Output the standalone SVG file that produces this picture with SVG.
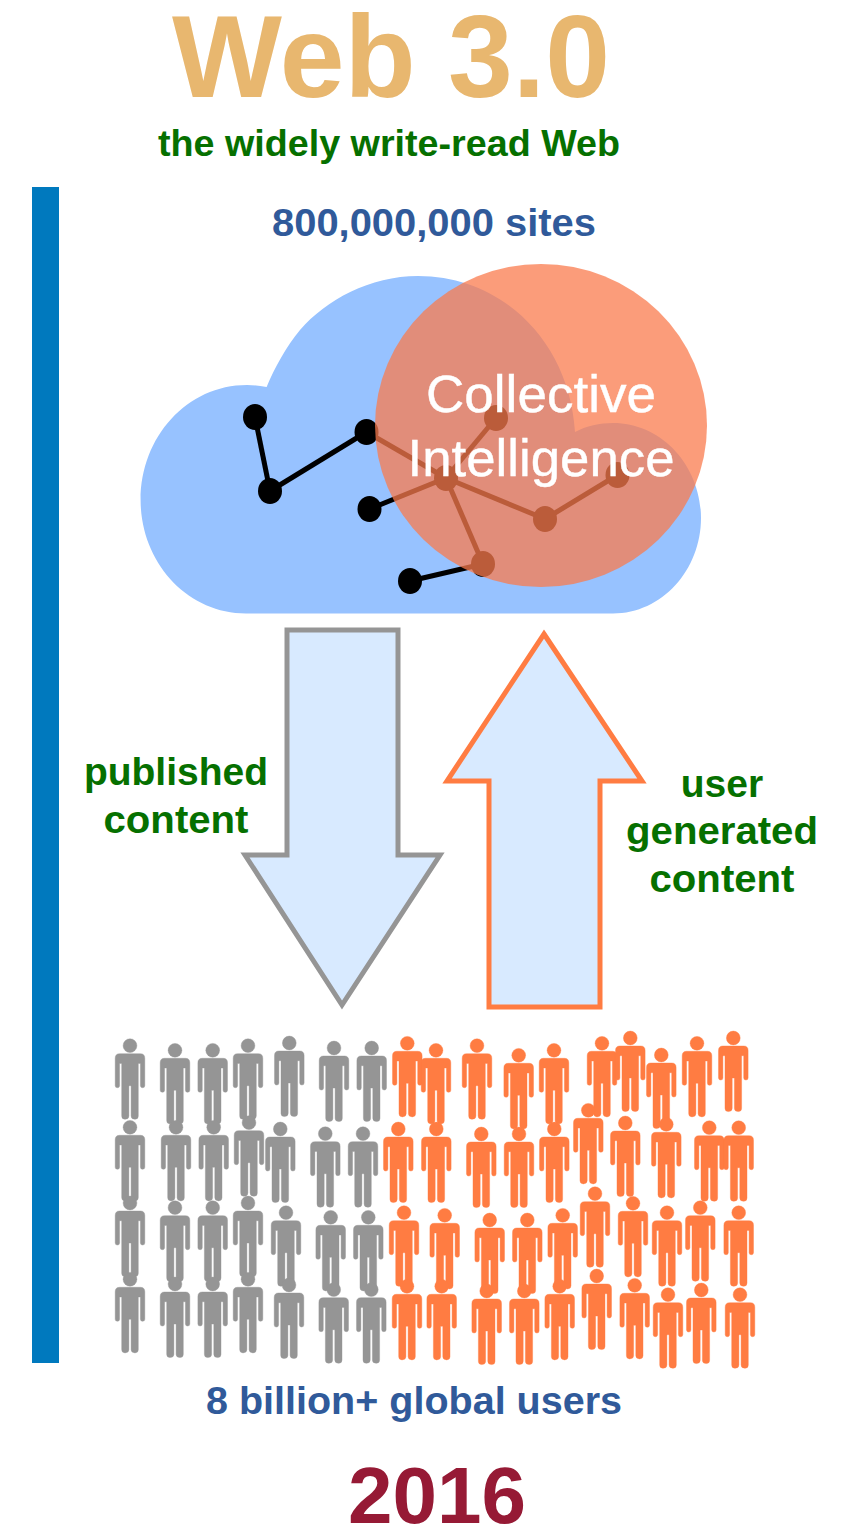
<svg xmlns="http://www.w3.org/2000/svg" width="842" height="1525" viewBox="0 0 842 1525">
<style>
text{font-family:"Liberation Sans",Arial,Helvetica,sans-serif;text-anchor:middle}
.b{font-weight:bold}
.g{fill:#067000;font-size:39px}
.n{fill:#305a9a;font-size:39px}
.w{fill:#fff;stroke:#fff;stroke-width:.4;font-size:52px}
.e{stroke:#000;stroke-width:5;fill:none}
.gr{fill:#959595;stroke:#959595;stroke-width:.4}
.or{fill:#ff7c42;stroke:#ff7c42;stroke-width:.4}
</style>
<defs>
<g id="p"><circle cx="0" cy="0" r="6.9"/><path d="M-10.5,8H10.5Q14.8,8 14.8,12.5V40Q14.8,42 12.6,42Q10.4,42 10.4,40V17.7H8.6L8.3,17.7V70.3Q8.3,73.6 5,73.6Q1.1,73.6 1.1,70.3V40H-1.1V70.3Q-1.1,73.6 -5,73.6Q-8.3,73.6 -8.3,70.3V17.7H-10.4V40Q-10.4,42 -12.6,42Q-14.8,42 -14.8,40V12.5Q-14.8,8 -10.5,8Z"/></g>
</defs>
<rect id="bar" x="32" y="187" width="27" height="1176" fill="#0079be"/>
<text class="b" x="391" y="97" font-size="116" fill="#e8b76f" textLength="438" lengthAdjust="spacingAndGlyphs">Web 3.0</text>
<text class="b g" x="389" y="155.5" style="font-size:37px" textLength="462" lengthAdjust="spacingAndGlyphs">the widely write-read Web</text>
<text class="b n" x="434" y="235.5" textLength="324" lengthAdjust="spacingAndGlyphs">800,000,000 sites</text>
<path id="cloud" fill="#97c2ff" d="M246,613.5C187,613.5 140.6,562 140.6,500C140.6,437 187,385 247,385C254,385 260,386 266.6,387C275,367 286,347 300,330C326,300 370,276 418,276C505,276 570,345 575,432C586,426 600,423 613,423C662,423 701,466 701,518C701,570 662,613.5 613,613.5Z"/>
<g id="connectors">
<line class="e" x1="255" y1="417" x2="270" y2="491"/>
<line class="e" x1="270" y1="491" x2="366.5" y2="432"/>
<line class="e" x1="366.5" y1="432" x2="446" y2="478"/>
<line class="e" x1="369.5" y1="509" x2="446" y2="478"/>
<line class="e" x1="446" y1="478" x2="496" y2="418"/>
<line class="e" x1="446" y1="478" x2="545" y2="519"/>
<line class="e" x1="545" y1="519" x2="617.5" y2="475"/>
<line class="e" x1="446" y1="478" x2="483" y2="564"/>
<line class="e" x1="483" y1="564" x2="410" y2="581"/>
</g>
<g id="net-1"><ellipse cx="255" cy="417" rx="12" ry="13"/></g>
<g id="net-2"><ellipse cx="270" cy="491" rx="12" ry="13"/></g>
<g id="net-3"><ellipse cx="366.5" cy="432" rx="12" ry="13"/></g>
<g id="net-4"><ellipse cx="369.5" cy="509" rx="12" ry="13"/></g>
<g id="net-5"><ellipse cx="446" cy="478" rx="12" ry="13"/></g>
<g id="net-6"><ellipse cx="496" cy="418" rx="12" ry="13"/></g>
<g id="net-7"><ellipse cx="545" cy="519" rx="12" ry="13"/></g>
<g id="net-8"><ellipse cx="617.5" cy="475" rx="12" ry="13"/></g>
<g id="net-9"><ellipse cx="483" cy="564" rx="12" ry="13"/></g>
<g id="net-10"><ellipse cx="410" cy="581" rx="12" ry="13"/></g>
<g id="collective">
<ellipse cx="541" cy="425.5" rx="166" ry="161.5" fill="#fa7b4d" fill-opacity=".75"/>
<text class="w" x="541" y="412" textLength="230" lengthAdjust="spacingAndGlyphs">Collective</text>
<text class="w" x="541" y="476" textLength="267" lengthAdjust="spacingAndGlyphs">Intelligence</text>
</g>
<g id="arrow-down"><path d="M287,630H398V855H440L342,1005L245,855H287Z" fill="#d8eaff" stroke="#959595" stroke-width="5"/></g>
<g id="arrow-up"><path d="M544,634L642,781H600V1007H489V781H447Z" fill="#d8eaff" stroke="#ff7c42" stroke-width="5"/></g>
<g id="label-published"><text class="b g" x="176" y="785">published</text><text class="b g" x="176" y="833" textLength="145" lengthAdjust="spacingAndGlyphs">content</text></g>
<g id="label-user"><text class="b g" x="722" y="797">user</text><text class="b g" x="722" y="844" textLength="192" lengthAdjust="spacingAndGlyphs">generated</text><text class="b g" x="722" y="892" textLength="145" lengthAdjust="spacingAndGlyphs">content</text></g>
<g id="users-grey" class="gr">
<use href="#p" x="130" y="1045.7"/><use href="#p" x="175" y="1050.3"/><use href="#p" x="212.7" y="1050.3"/><use href="#p" x="248" y="1045.7"/><use href="#p" x="289.3" y="1043"/><use href="#p" x="334" y="1048"/><use href="#p" x="371.7" y="1048"/>
<use href="#p" x="130" y="1127.3"/><use href="#p" x="176" y="1127.3"/><use href="#p" x="213.7" y="1127.3"/><use href="#p" x="249" y="1122.7"/><use href="#p" x="280.3" y="1129"/><use href="#p" x="325.3" y="1133.7"/><use href="#p" x="363" y="1133.7"/>
<use href="#p" x="130" y="1203"/><use href="#p" x="175" y="1207.7"/><use href="#p" x="212.7" y="1207.7"/><use href="#p" x="248" y="1203"/><use href="#p" x="286" y="1212.7"/><use href="#p" x="330.7" y="1217.3"/><use href="#p" x="368.3" y="1217.3"/>
<use href="#p" x="130" y="1279.3"/><use href="#p" x="175" y="1284"/><use href="#p" x="212.7" y="1284"/><use href="#p" x="248" y="1279.3"/><use href="#p" x="289" y="1285"/><use href="#p" x="333.7" y="1289.7"/><use href="#p" x="371.3" y="1289.7"/>
</g>
<g id="users-orange" class="or">
<use href="#p" x="407.3" y="1043.3"/><use href="#p" x="436" y="1050.3"/><use href="#p" x="477" y="1045.7"/><use href="#p" x="518.7" y="1055.3"/><use href="#p" x="554" y="1050.3"/><use href="#p" x="602" y="1043.3"/><use href="#p" x="630.3" y="1038"/><use href="#p" x="661.3" y="1055"/><use href="#p" x="697" y="1043.3"/><use href="#p" x="733.3" y="1038"/>
<use href="#p" x="398.3" y="1129"/><use href="#p" x="436.3" y="1129"/><use href="#p" x="481.3" y="1134"/><use href="#p" x="519" y="1134"/><use href="#p" x="554.3" y="1129"/><use href="#p" x="588.3" y="1110.3"/><use href="#p" x="625.3" y="1123"/><use href="#p" x="666.3" y="1124.3"/><use href="#p" x="709.3" y="1127.7"/><use href="#p" x="738.7" y="1127.7"/>
<use href="#p" x="404" y="1212.7"/><use href="#p" x="444.7" y="1215.3"/><use href="#p" x="489.7" y="1220"/><use href="#p" x="527.3" y="1220"/><use href="#p" x="562.7" y="1215.3"/><use href="#p" x="595" y="1193.7"/><use href="#p" x="633" y="1203.3"/><use href="#p" x="667" y="1212.7"/><use href="#p" x="700.3" y="1207.7"/><use href="#p" x="738.7" y="1212.7"/>
<use href="#p" x="407" y="1286.3"/><use href="#p" x="441.7" y="1286.3"/><use href="#p" x="486.7" y="1291"/><use href="#p" x="524.3" y="1291"/><use href="#p" x="559.7" y="1286.3"/><use href="#p" x="596.7" y="1276"/><use href="#p" x="634.7" y="1285.3"/><use href="#p" x="668" y="1294.7"/><use href="#p" x="701.3" y="1290"/><use href="#p" x="740" y="1294.7"/>
</g>
<text class="b n" x="414" y="1414" textLength="416" lengthAdjust="spacingAndGlyphs">8 billion+ global users</text>
<text class="b" x="437" y="1523" font-size="80" fill="#961a35">2016</text>
</svg>
